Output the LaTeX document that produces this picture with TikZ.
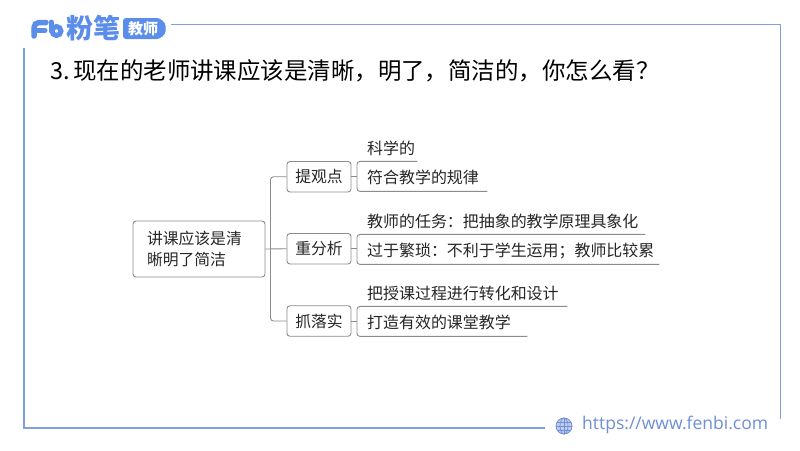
\documentclass[tikz,border=0pt]{standalone}
\usepackage{fontspec}
\setmainfont{Noto Sans CJK SC}
\newfontfamily\urlfont{Open Sans}
\definecolor{frameblue}{HTML}{7E9FE0}
\definecolor{logoblue}{HTML}{5B8DEB}
\definecolor{urlblue}{HTML}{6F8FD6}
\definecolor{linegray}{HTML}{8C8C8C}
\definecolor{inkdark}{HTML}{262626}
\tikzset{
  x=1pt,y=-1pt,
  frameline/.style={draw=frameblue,line width=1.6pt},
  mapline/.style={draw=linegray,line width=0.9pt,rounded corners=3pt},
  mapbox/.style={draw=linegray,line width=0.9pt,rounded corners=3pt,text=inkdark,font=\fontsize{15.8}{21}\selectfont,inner sep=0pt,align=center},
  rootbox/.style={mapbox,align=left,text width=132pt,minimum height=56pt},
  midbox/.style={mapbox,minimum width=64pt,minimum height=30.5pt},
  leaf/.style={anchor=north west,text=inkdark,font=\fontsize{15.95}{18}\selectfont,inner sep=0pt,align=left,text width=#1,text height=15pt,text depth=0.6pt,execute at begin node={\hspace*{10pt}}},
}
\begin{document}
\begin{tikzpicture}
\useasboundingbox (0,0) rectangle (800,450);
\fill[white] (0,0) rectangle (800,450);
% frame
\coordinate (fa) at (171,24.5);
\coordinate (fb) at (780.5,24.5);
\coordinate (fc) at (780.5,419);
\coordinate (fd) at (545,428);
\coordinate (fe) at (24,428);
\coordinate (ff) at (24,48);
\draw[frameline] (fa) -- (fb) -- (fc);
\draw[frameline] (fd) -- (fe) -- (ff);
% logo
\draw[logoblue,line width=5.5pt,line cap=round,rounded corners=5pt] (34,36) -- (34,22.5) -- (46,22.5);
\draw[logoblue,line width=5pt,line cap=round] (34,30.5) -- (45,30.5);
\draw[logoblue,line width=5pt,line cap=round] (51,22) -- (51,31);
\draw[logoblue,line width=5pt] (56.5,31) circle[radius=4.5];
\node[text=logoblue,font=\fontsize{27}{27}\bfseries\selectfont,inner sep=0pt] (logotext) at (93.5,28) {粉笔};
\fill[logoblue,rounded corners=3pt] (123,18) -- (154,18) to[out=0,in=90] (165.5,28.5) to[out=-90,in=0] (154,39) -- (123,39) -- cycle;
\node[text=white,font=\fontsize{15}{15}\bfseries\selectfont,inner sep=0pt] (logotag) at (143,28.5) {教师};
% title
\node[anchor=west,text=black,font=\fontsize{23.45}{26}\selectfont,inner sep=0pt] (title) at (50.5,71) {3.\hspace{3pt}现在的老师讲课应该是清晰，明了，简洁的，你怎么看？};
% mind map
\node[rootbox] (root) at (199,249) {\hspace*{14pt}讲课应该是清\\\hspace*{14pt}晰明了简洁};
\node[midbox] (p1) at (319,176.75) {提观点};
\node[midbox] (p2) at (319,248.75) {重分析};
\node[midbox] (p3) at (319,321) {抓落实};
\node[leaf=60pt,minimum height=28pt] (a1) at (357,133) {科学的};
\node[leaf=130pt,minimum height=30pt] (b1) at (357,161) {符合教学的规律};
\node[leaf=288pt,minimum height=28pt] (a2) at (357,206) {教师的任务：把抽象的教学原理具象化};
\node[leaf=302pt,minimum height=30pt] (b2) at (357,234) {过于繁琐：不利于学生运用；教师比较累};
\node[leaf=210pt,minimum height=28pt] (a3) at (357,278) {把授课过程进行转化和设计};
\node[leaf=170pt,minimum height=30pt] (b3) at (357,306) {打造有效的课堂教学};
\coordinate (trunk) at (270.5,249);
\draw[mapline] (root.east) -- (p2.west);
\draw[mapline] (p1.west) -- (p1.west -| trunk) -- (p3.west -| trunk) -- (p3.west);
\foreach \i in {1,2,3}{
  \draw[mapline] (a\i.south east) -- (a\i.south west) -- (b\i.south west) -- (b\i.south east);
  \draw[mapline] (p\i.east) -- (p\i.east -| b\i.south west);
}
% footer
\coordinate (globe) at (564,426);
\fill[urlblue!45] (globe) circle[radius=8];
\draw[urlblue,line width=0.8pt] (globe) circle[radius=8];
\draw[urlblue,line width=0.7pt] (556,426) -- (572,426) (557,422) -- (571,422) (557,430) -- (571,430) (564,418) -- (564,434);
\draw[urlblue,line width=0.7pt] (globe) ellipse[x radius=4,y radius=8];
\node[anchor=west,text=urlblue,font=\urlfont\fontsize{17.5}{20}\selectfont,inner sep=0pt] (url) at (582,424.5) {https://www.fenbi.com};
\end{tikzpicture}
\end{document}
